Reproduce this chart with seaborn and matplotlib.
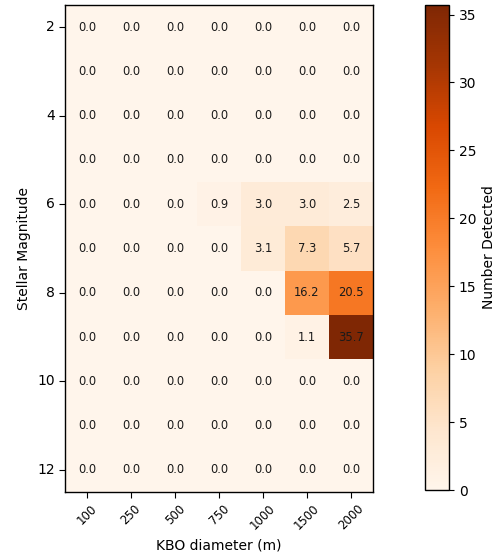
import numpy as np
import pandas as pd
import matplotlib
matplotlib.use("Agg")
import matplotlib.pyplot as plt
import seaborn as sns

# KBO diameters (columns) and stellar magnitudes (rows)
diameters = [100, 250, 500, 750, 1000, 1500, 2000]
magnitudes = [2, 3, 4, 5, 6, 7, 8, 9, 10, 11, 12]

# detections per magnitude row
mag_2 = [0.0, 0.0, 0.0, 0.0, 0.0, 0.0, 0.0]
mag_3 = [0.0, 0.0, 0.0, 0.0, 0.0, 0.0, 0.0]
mag_4 = [0.0, 0.0, 0.0, 0.0, 0.0, 0.0, 0.0]
mag_5 = [0.0, 0.0, 0.0, 0.0, 0.0, 0.0, 0.0]
mag_6 = [0.0, 0.0, 0.0, 0.9, 3.0, 3.0, 2.5]
mag_7 = [0.0, 0.0, 0.0, 0.04, 3.1, 7.3, 5.7]
mag_8 = [0.0, 0.0, 0.0, 0.0, 0.0, 16.2, 20.5]
mag_9 = [0.0, 0.0, 0.0, 0.0, 0.0, 1.1, 35.7]
mag_10 = [0.0, 0.0, 0.0, 0.0, 0.0, 0.0, 0.0]
mag_11 = [0.0, 0.0, 0.0, 0.0, 0.0, 0.0, 0.0]
mag_12 = [0.0, 0.0, 0.0, 0.0, 0.0, 0.0, 0.0]

rows = [mag_2, mag_3, mag_4, mag_5, mag_6, mag_7, mag_8,
        mag_9, mag_10, mag_11, mag_12]
df = pd.DataFrame(rows, index=magnitudes, columns=diameters)

fig = plt.figure(figsize=(5.0, 5.57), dpi=100)
ax = fig.add_axes([65 / 500, 1 - 492 / 557, 308 / 500, 487 / 557])
cax = fig.add_axes([425 / 500, 1 - 490 / 557, 24 / 500, 485 / 557])

sns.heatmap(df, ax=ax, cbar_ax=cax, cmap="Oranges", vmin=0,
            annot=True, fmt=".1f", annot_kws={"color": "#1a1a1a", "fontsize": 8.3},
            yticklabels=2, cbar_kws={"label": "Number Detected"})

# keep the black frame around the map and the colorbar
for s in ax.spines.values():
    s.set_visible(True)
    s.set_color("black")
    s.set_linewidth(1)
cb = ax.collections[0].colorbar
cb.outline.set_visible(True)
cb.outline.set_edgecolor("black")
cb.outline.set_linewidth(1)
cb.set_ticks([0, 5, 10, 15, 20, 25, 30, 35])

ax.set_yticklabels([str(m) for m in magnitudes[::2]], rotation=0)
ax.set_xticklabels([str(d) for d in diameters], rotation=45)
ax.tick_params(axis="y", labelsize=10, length=4)
ax.tick_params(axis="x", labelsize=8.5, length=4)
ax.set_xlabel("KBO diameter (m)", fontsize=10)
ax.set_ylabel("Stellar Magnitude", fontsize=10)
cax.tick_params(labelsize=10)

fig.savefig("out.png", dpi=100)
